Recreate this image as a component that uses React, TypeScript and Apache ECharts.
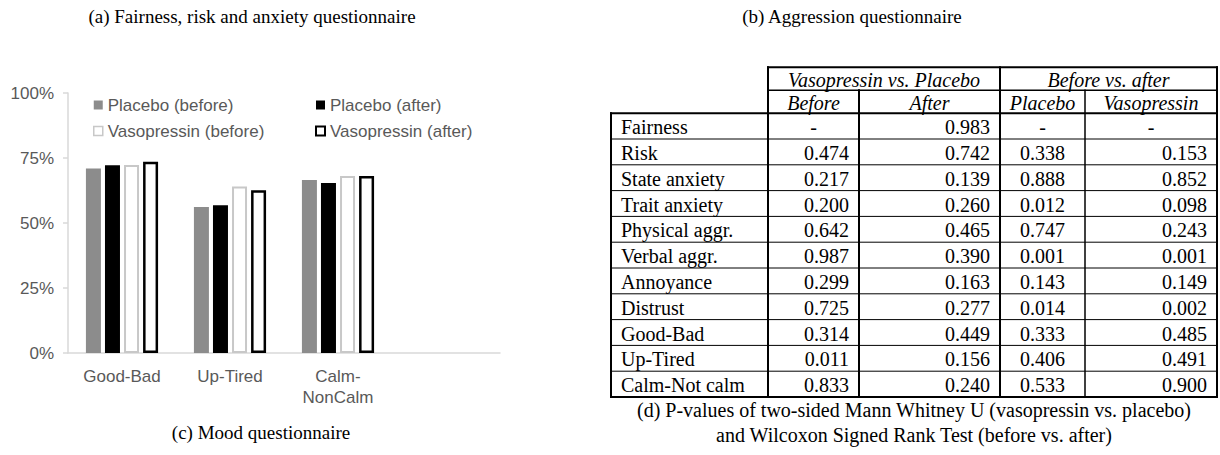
import React, { useEffect, useRef } from 'react';
import * as echarts from 'echarts';

// ---- Data: mood questionnaire (c) ----
const moodCategories = ['Good-Bad', 'Up-Tired', 'Calm-\nNonCalm', ''];
const placeboBefore = [71.0, 56.2, 66.5];
const placeboAfter = [72.2, 56.8, 65.4];
const vasoBefore = [72.3, 64.0, 68.1];
const vasoAfter = [73.6, 62.6, 68.1];
const seriesNames = ['Placebo (before)', 'Placebo (after)', 'Vasopressin (before)', 'Vasopressin (after)'];

// ---- Data: p-value table (d) ----
const groupHeaders = ['Vasopressin vs. Placebo', 'Before vs. after'];
const subHeaders = ['Before', 'After', 'Placebo', 'Vasopressin'];
const tableRowLabels = [
  'Fairness', 'Risk', 'State anxiety', 'Trait anxiety', 'Physical aggr.', 'Verbal aggr.',
  'Annoyance', 'Distrust', 'Good-Bad', 'Up-Tired', 'Calm-Not calm',
];
const pVasoVsPlaceboBefore = [null, 0.474, 0.217, 0.200, 0.642, 0.987, 0.299, 0.725, 0.314, 0.011, 0.833];
const pVasoVsPlaceboAfter = [0.983, 0.742, 0.139, 0.260, 0.465, 0.390, 0.163, 0.277, 0.449, 0.156, 0.240];
const pBeforeAfterPlacebo = [null, 0.338, 0.888, 0.012, 0.747, 0.001, 0.143, 0.014, 0.333, 0.406, 0.533];
const pBeforeAfterVaso = [null, 0.153, 0.852, 0.098, 0.243, 0.001, 0.149, 0.002, 0.485, 0.491, 0.900];

// ---- Texts ----
const titleA = '(a) Fairness, risk and anxiety questionnaire';
const titleB = '(b) Aggression questionnaire';
const captionC = '(c) Mood questionnaire';
const captionD1 = '(d) P-values of two-sided Mann Whitney U (vasopressin vs. placebo)';
const captionD2 = 'and Wilcoxon Signed Rank Test (before vs. after)';

// ---- Layout / style ----
const SANS = "'Liberation Sans', Arial, sans-serif";
const SERIF = "'Liberation Serif', 'Times New Roman', serif";
const AXIS_TEXT = '#595959';
const AXIS_LINE = '#d9d9d9';
const COL_EDGES = [0, 157, 248, 389, 474, 606];
const HEADER_H = 23;
const BODY_H = 25.8;
const TABLE_BOTTOM = 397;
const TABLE_FONT = 20;

function rowTop(i: number): number {
  return i <= 2 ? i * HEADER_H : 2 * HEADER_H + (i - 2) * BODY_H;
}

type Cell = { row: number; c0: number; c1: number; text: string; align: 'left' | 'center' | 'right'; italic: boolean };

function buildCells(): Cell[] {
  const cells: Cell[] = [];
  cells.push({ row: 0, c0: 1, c1: 3, text: groupHeaders[0], align: 'center', italic: true });
  cells.push({ row: 0, c0: 3, c1: 5, text: groupHeaders[1], align: 'center', italic: true });
  subHeaders.forEach((h, i) => cells.push({ row: 1, c0: i + 1, c1: i + 2, text: h, align: 'center', italic: true }));
  const cols = [pVasoVsPlaceboBefore, pVasoVsPlaceboAfter, pBeforeAfterPlacebo, pBeforeAfterVaso];
  const colAlign: Array<'right' | 'center'> = ['right', 'right', 'center', 'right'];
  tableRowLabels.forEach((label, r) => {
    cells.push({ row: r + 2, c0: 0, c1: 1, text: label, align: 'left', italic: false });
    cols.forEach((col, ci) => {
      const v = col[r];
      cells.push({
        row: r + 2, c0: ci + 1, c1: ci + 2,
        text: v === null ? '-' : v.toFixed(3),
        align: v === null ? 'center' : colAlign[ci],
        italic: false,
      });
    });
  });
  return cells;
}

type Seg = { e0: number; e1: number; b0: number; b1: number; w: number };

function buildSegments(nRows: number): Seg[] {
  const segs: Seg[] = [];
  segs.push({ e0: 1, e1: 5, b0: 0, b1: 0, w: 2 });
  segs.push({ e0: 1, e1: 5, b0: 1, b1: 1, w: 1.5 });
  segs.push({ e0: 0, e1: 5, b0: 2, b1: 2, w: 2 });
  for (let b = 3; b < nRows; b++) segs.push({ e0: 0, e1: 5, b0: b, b1: b, w: 1 });
  segs.push({ e0: 0, e1: 5, b0: nRows, b1: nRows, w: 2 });
  segs.push({ e0: 0, e1: 0, b0: 2, b1: nRows, w: 2 });
  segs.push({ e0: 1, e1: 1, b0: 0, b1: nRows, w: 2 });
  segs.push({ e0: 2, e1: 2, b0: 1, b1: nRows, w: 2 });
  segs.push({ e0: 3, e1: 3, b0: 0, b1: nRows, w: 2 });
  segs.push({ e0: 4, e1: 4, b0: 1, b1: nRows, w: 1.5 });
  segs.push({ e0: 5, e1: 5, b0: 0, b1: nRows, w: 2 });
  return segs;
}

export default function App() {
  const ref = useRef<HTMLDivElement>(null);

  useEffect(() => {
    if (!ref.current) return;
    const chart = echarts.init(ref.current, undefined, { renderer: 'svg' });
    const nRows = tableRowLabels.length + 2;
    const cells = buildCells();
    const segs = buildSegments(nRows);
    const tableH = rowTop(nRows);
    const tableTop = TABLE_BOTTOM - tableH;

    const barBase = { type: 'bar', barWidth: 15, barGap: '27%', xAxisIndex: 0, yAxisIndex: 0 };
    const centered = { textAlign: 'center', textVerticalAlign: 'middle', align: 'center', verticalAlign: 'middle' };

    const option: any = {
      animation: false,
      backgroundColor: '#ffffff',
      grid: [
        { left: 68, top: 93, width: 432, height: 260 },
        { left: 611, top: tableTop, width: COL_EDGES[COL_EDGES.length - 1], height: tableH },
      ],
      xAxis: [
        {
          type: 'category', gridIndex: 0, data: moodCategories,
          axisLine: { lineStyle: { color: AXIS_LINE, width: 1.5 } },
          axisTick: { show: false },
          axisLabel: { color: AXIS_TEXT, fontSize: 17, fontFamily: SANS, margin: 13, lineHeight: 21, interval: 0 },
        },
        { type: 'value', gridIndex: 1, min: 0, max: COL_EDGES[COL_EDGES.length - 1], show: false },
      ],
      yAxis: [
        {
          type: 'value', gridIndex: 0, min: 0, max: 100, interval: 25,
          axisLine: { show: true, lineStyle: { color: AXIS_LINE, width: 1.5 } },
          axisTick: { show: true, length: 5, lineStyle: { color: AXIS_LINE, width: 1.5 } },
          splitLine: { show: false },
          axisLabel: { color: AXIS_TEXT, fontSize: 17, fontFamily: SANS, margin: 14, formatter: '{value}%' },
        },
        { type: 'value', gridIndex: 1, min: 0, max: tableH, inverse: true, show: false },
      ],
      legend: [
        {
          orient: 'vertical', left: 93, top: 95, padding: 0, itemGap: 6,
          itemWidth: 9, itemHeight: 9, icon: 'rect',
          textStyle: { color: AXIS_TEXT, fontSize: 17, fontFamily: SANS, lineHeight: 20 },
          data: [
            { name: seriesNames[0], itemStyle: { color: '#8c8c8c', borderWidth: 0 } },
            { name: seriesNames[2], itemStyle: { color: '#ffffff', borderColor: '#c8c8c8', borderWidth: 1.5 } },
          ],
        },
        {
          orient: 'vertical', left: 315, top: 95, padding: 0, itemGap: 6,
          itemWidth: 9, itemHeight: 9, icon: 'rect',
          textStyle: { color: AXIS_TEXT, fontSize: 17, fontFamily: SANS, lineHeight: 20 },
          data: [
            { name: seriesNames[1], itemStyle: { color: '#000000', borderWidth: 0 } },
            { name: seriesNames[3], itemStyle: { color: '#ffffff', borderColor: '#000000', borderWidth: 2 } },
          ],
        },
      ],
      series: [
        { ...barBase, name: seriesNames[0], data: placeboBefore, itemStyle: { color: '#8c8c8c' } },
        { ...barBase, name: seriesNames[1], data: placeboAfter, itemStyle: { color: '#000000' } },
        { ...barBase, name: seriesNames[2], data: vasoBefore, itemStyle: { color: '#ffffff', borderColor: '#c8c8c8', borderWidth: 2 } },
        { ...barBase, name: seriesNames[3], data: vasoAfter, itemStyle: { color: '#ffffff', borderColor: '#000000', borderWidth: 2.5 } },
        {
          type: 'custom', name: 'tableText', xAxisIndex: 1, yAxisIndex: 1, silent: true, clip: false,
          data: cells.map((c) => [COL_EDGES[c.c0], rowTop(c.row)]),
          renderItem: (params: any, api: any) => {
            const c = cells[params.dataIndex];
            const p0 = api.coord([COL_EDGES[c.c0], rowTop(c.row)]);
            const p1 = api.coord([COL_EDGES[c.c1], rowTop(c.row + 1)]);
            const pad = 10;
            const x = c.align === 'left' ? p0[0] + pad : c.align === 'right' ? p1[0] - pad : (p0[0] + p1[0]) / 2;
            return {
              type: 'text', x, y: (p0[1] + p1[1]) / 2 + 1,
              style: {
                text: c.text, fill: '#000000',
                textAlign: c.align, align: c.align,
                textVerticalAlign: 'middle', verticalAlign: 'middle',
                fontSize: TABLE_FONT, fontFamily: SERIF, fontStyle: c.italic ? 'italic' : 'normal',
              },
            };
          },
        },
        {
          type: 'custom', name: 'tableLines', xAxisIndex: 1, yAxisIndex: 1, silent: true, clip: false,
          data: segs.map((s) => [COL_EDGES[s.e0], rowTop(s.b0)]),
          renderItem: (params: any, api: any) => {
            const s = segs[params.dataIndex];
            const p0 = api.coord([COL_EDGES[s.e0], rowTop(s.b0)]);
            const p1 = api.coord([COL_EDGES[s.e1], rowTop(s.b1)]);
            return {
              type: 'line',
              shape: { x1: p0[0], y1: p0[1], x2: p1[0], y2: p1[1] },
              style: { stroke: '#000000', lineWidth: s.w, lineCap: 'square' },
            };
          },
        },
      ],
      graphic: [
        { type: 'text', x: 252, y: 16, style: { text: titleA, font: `19px ${SERIF}`, fill: '#000', ...centered } },
        { type: 'text', x: 852, y: 16, style: { text: titleB, font: `19px ${SERIF}`, fill: '#000', ...centered } },
        { type: 'text', x: 261, y: 432, style: { text: captionC, font: `19px ${SERIF}`, fill: '#000', ...centered } },
        { type: 'text', x: 914, y: 410, style: { text: captionD1, font: `20px ${SERIF}`, fill: '#000', ...centered } },
        { type: 'text', x: 914, y: 435, style: { text: captionD2, font: `20px ${SERIF}`, fill: '#000', ...centered } },
      ],
    };

    chart.setOption(option);
    return () => chart.dispose();
  }, []);

  return (
    <div
      ref={ref}
      style={{ position: 'fixed', left: 0, top: 0, width: 1220, height: 455, background: '#ffffff' }}
    />
  );
}
